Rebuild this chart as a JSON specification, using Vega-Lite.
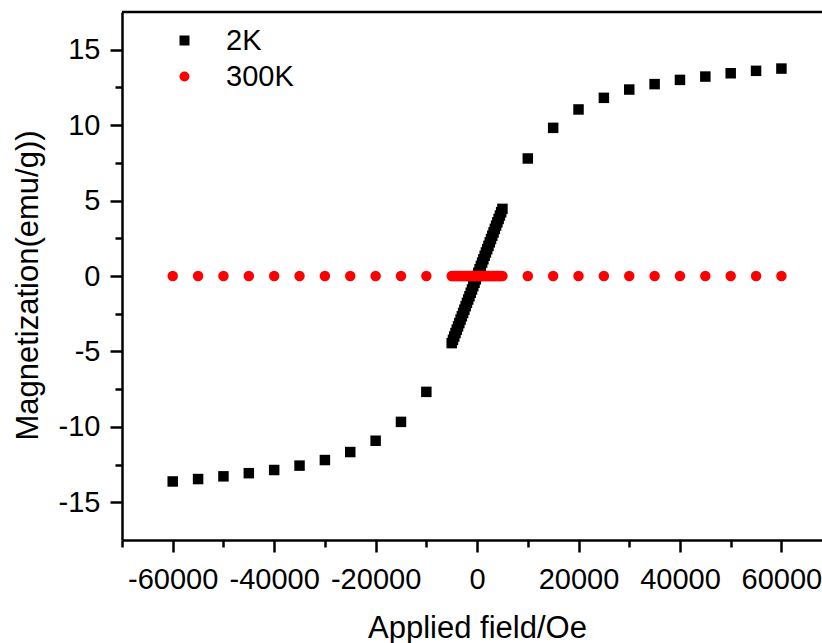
{
  "$schema": "https://vega.github.io/schema/vega-lite/v6.json",
  "autosize": {"type": "none"},
  "padding": {"left": 122, "top": 12, "right": 0, "bottom": 103},
  "width": 700,
  "height": 528,
  "background": "white",
  "config": {
    "view": {"stroke": null},
    "font": "Liberation Sans",
    "axis": {
      "grid": false,
      "domainColor": "black",
      "domainWidth": 2.5,
      "tickColor": "black",
      "tickWidth": 2.5,
      "labelFont": "Liberation Sans",
      "labelFontSize": 29,
      "labelColor": "black",
      "labelOverlap": false,
      "labelFlush": false,
      "titleFont": "Liberation Sans",
      "titleFontSize": 31,
      "titleFontWeight": "normal",
      "titleColor": "black"
    },
    "legend": {
      "orient": "none",
      "legendX": 48,
      "legendY": 14,
      "labelFont": "Liberation Sans",
      "labelFontSize": 29,
      "labelColor": "black",
      "symbolSize": 100,
      "symbolStrokeWidth": 0,
      "rowPadding": 6,
      "labelOffset": 27,
      "padding": 0
    }
  },
  "layer": [
    {
      "data": {"values": [
        {"H": -60000, "M": -13.62, "T": "2K"},
        {"H": -55000, "M": -13.46, "T": "2K"},
        {"H": -50000, "M": -13.28, "T": "2K"},
        {"H": -45000, "M": -13.07, "T": "2K"},
        {"H": -40000, "M": -12.86, "T": "2K"},
        {"H": -35000, "M": -12.57, "T": "2K"},
        {"H": -30000, "M": -12.2, "T": "2K"},
        {"H": -25000, "M": -11.67, "T": "2K"},
        {"H": -20000, "M": -10.92, "T": "2K"},
        {"H": -15000, "M": -9.67, "T": "2K"},
        {"H": -10000, "M": -7.68, "T": "2K"},
        {"H": -5000, "M": -4.45, "T": "2K"},
        {"H": -4750, "M": -4.23, "T": "2K"},
        {"H": -4500, "M": -4.01, "T": "2K"},
        {"H": -4250, "M": -3.78, "T": "2K"},
        {"H": -4000, "M": -3.56, "T": "2K"},
        {"H": -3750, "M": -3.34, "T": "2K"},
        {"H": -3500, "M": -3.12, "T": "2K"},
        {"H": -3250, "M": -2.89, "T": "2K"},
        {"H": -3000, "M": -2.67, "T": "2K"},
        {"H": -2750, "M": -2.45, "T": "2K"},
        {"H": -2500, "M": -2.23, "T": "2K"},
        {"H": -2250, "M": -2.0, "T": "2K"},
        {"H": -2000, "M": -1.78, "T": "2K"},
        {"H": -1750, "M": -1.56, "T": "2K"},
        {"H": -1500, "M": -1.34, "T": "2K"},
        {"H": -1250, "M": -1.11, "T": "2K"},
        {"H": -1000, "M": -0.89, "T": "2K"},
        {"H": -750, "M": -0.67, "T": "2K"},
        {"H": -500, "M": -0.45, "T": "2K"},
        {"H": -250, "M": -0.22, "T": "2K"},
        {"H": 0, "M": 0.0, "T": "2K"},
        {"H": 250, "M": 0.22, "T": "2K"},
        {"H": 500, "M": 0.45, "T": "2K"},
        {"H": 750, "M": 0.67, "T": "2K"},
        {"H": 1000, "M": 0.89, "T": "2K"},
        {"H": 1250, "M": 1.11, "T": "2K"},
        {"H": 1500, "M": 1.34, "T": "2K"},
        {"H": 1750, "M": 1.56, "T": "2K"},
        {"H": 2000, "M": 1.78, "T": "2K"},
        {"H": 2250, "M": 2.0, "T": "2K"},
        {"H": 2500, "M": 2.23, "T": "2K"},
        {"H": 2750, "M": 2.45, "T": "2K"},
        {"H": 3000, "M": 2.67, "T": "2K"},
        {"H": 3250, "M": 2.89, "T": "2K"},
        {"H": 3500, "M": 3.12, "T": "2K"},
        {"H": 3750, "M": 3.34, "T": "2K"},
        {"H": 4000, "M": 3.56, "T": "2K"},
        {"H": 4250, "M": 3.78, "T": "2K"},
        {"H": 4500, "M": 4.01, "T": "2K"},
        {"H": 4750, "M": 4.23, "T": "2K"},
        {"H": 5000, "M": 4.45, "T": "2K"},
        {"H": 10000, "M": 7.79, "T": "2K"},
        {"H": 15000, "M": 9.82, "T": "2K"},
        {"H": 20000, "M": 11.04, "T": "2K"},
        {"H": 25000, "M": 11.81, "T": "2K"},
        {"H": 30000, "M": 12.36, "T": "2K"},
        {"H": 35000, "M": 12.72, "T": "2K"},
        {"H": 40000, "M": 13.0, "T": "2K"},
        {"H": 45000, "M": 13.22, "T": "2K"},
        {"H": 50000, "M": 13.44, "T": "2K"},
        {"H": 55000, "M": 13.6, "T": "2K"},
        {"H": 60000, "M": 13.75, "T": "2K"},
        {"H": -60000, "M": 0, "T": "300K"},
        {"H": -55000, "M": 0, "T": "300K"},
        {"H": -50000, "M": 0, "T": "300K"},
        {"H": -45000, "M": 0, "T": "300K"},
        {"H": -40000, "M": 0, "T": "300K"},
        {"H": -35000, "M": 0, "T": "300K"},
        {"H": -30000, "M": 0, "T": "300K"},
        {"H": -25000, "M": 0, "T": "300K"},
        {"H": -20000, "M": 0, "T": "300K"},
        {"H": -15000, "M": 0, "T": "300K"},
        {"H": -10000, "M": 0, "T": "300K"},
        {"H": -5000, "M": 0, "T": "300K"},
        {"H": -4750, "M": 0, "T": "300K"},
        {"H": -4500, "M": 0, "T": "300K"},
        {"H": -4250, "M": 0, "T": "300K"},
        {"H": -4000, "M": 0, "T": "300K"},
        {"H": -3750, "M": 0, "T": "300K"},
        {"H": -3500, "M": 0, "T": "300K"},
        {"H": -3250, "M": 0, "T": "300K"},
        {"H": -3000, "M": 0, "T": "300K"},
        {"H": -2750, "M": 0, "T": "300K"},
        {"H": -2500, "M": 0, "T": "300K"},
        {"H": -2250, "M": 0, "T": "300K"},
        {"H": -2000, "M": 0, "T": "300K"},
        {"H": -1750, "M": 0, "T": "300K"},
        {"H": -1500, "M": 0, "T": "300K"},
        {"H": -1250, "M": 0, "T": "300K"},
        {"H": -1000, "M": 0, "T": "300K"},
        {"H": -750, "M": 0, "T": "300K"},
        {"H": -500, "M": 0, "T": "300K"},
        {"H": -250, "M": 0, "T": "300K"},
        {"H": 0, "M": 0, "T": "300K"},
        {"H": 250, "M": 0, "T": "300K"},
        {"H": 500, "M": 0, "T": "300K"},
        {"H": 750, "M": 0, "T": "300K"},
        {"H": 1000, "M": 0, "T": "300K"},
        {"H": 1250, "M": 0, "T": "300K"},
        {"H": 1500, "M": 0, "T": "300K"},
        {"H": 1750, "M": 0, "T": "300K"},
        {"H": 2000, "M": 0, "T": "300K"},
        {"H": 2250, "M": 0, "T": "300K"},
        {"H": 2500, "M": 0, "T": "300K"},
        {"H": 2750, "M": 0, "T": "300K"},
        {"H": 3000, "M": 0, "T": "300K"},
        {"H": 3250, "M": 0, "T": "300K"},
        {"H": 3500, "M": 0, "T": "300K"},
        {"H": 3750, "M": 0, "T": "300K"},
        {"H": 4000, "M": 0, "T": "300K"},
        {"H": 4250, "M": 0, "T": "300K"},
        {"H": 4500, "M": 0, "T": "300K"},
        {"H": 4750, "M": 0, "T": "300K"},
        {"H": 5000, "M": 0, "T": "300K"},
        {"H": 10000, "M": 0, "T": "300K"},
        {"H": 15000, "M": 0, "T": "300K"},
        {"H": 20000, "M": 0, "T": "300K"},
        {"H": 25000, "M": 0, "T": "300K"},
        {"H": 30000, "M": 0, "T": "300K"},
        {"H": 35000, "M": 0, "T": "300K"},
        {"H": 40000, "M": 0, "T": "300K"},
        {"H": 45000, "M": 0, "T": "300K"},
        {"H": 50000, "M": 0, "T": "300K"},
        {"H": 55000, "M": 0, "T": "300K"},
        {"H": 60000, "M": 0, "T": "300K"}
      ]},
      "mark": {"type": "point", "filled": true, "opacity": 1, "size": 110, "strokeWidth": 0},
      "encoding": {
        "x": {
          "field": "H",
          "type": "quantitative",
          "scale": {"domain": [-70000, 68000], "nice": false, "zero": false},
          "axis": {
            "title": "Applied field/Oe",
            "values": [-70000, -60000, -50000, -40000, -30000, -20000, -10000, 0, 10000, 20000, 30000, 40000, 50000, 60000],
            "labelExpr": "datum.value % 20000 === 0 ? '' + datum.value : ''",
            "tickSize": {"condition": {"test": "datum.value % 20000 === 0", "value": 12}, "value": 7},
            "labelBaseline": "alphabetic",
            "labelPadding": 36,
            "titleX": 355,
            "titleY": 97,
            "titleAlign": "center",
            "titleBaseline": "alphabetic",
            "titleAnchor": null
          }
        },
        "y": {
          "field": "M",
          "type": "quantitative",
          "scale": {"domain": [-17.5, 17.5], "nice": false, "zero": false},
          "axis": {
            "title": "Magnetization(emu/g))",
            "values": [-15, -12.5, -10, -7.5, -5, -2.5, 0, 2.5, 5, 7.5, 10, 12.5, 15],
            "labelExpr": "datum.value % 5 === 0 ? '' + datum.value : ''",
            "tickSize": {"condition": {"test": "datum.value % 5 === 0", "value": 12}, "value": 7},
            "labelPadding": 10,
            "labelBaseline": "middle",
            "titleX": -94,
            "titleY": 273,
            "titleAngle": -90,
            "titleAlign": "center",
            "titleBaseline": "middle",
            "titleAnchor": null
          }
        },
        "color": {
          "field": "T",
          "type": "nominal",
          "title": null,
          "scale": {"domain": ["2K", "300K"], "range": ["#000000", "#ff0000"]}
        },
        "shape": {
          "field": "T",
          "type": "nominal",
          "title": null,
          "scale": {"domain": ["2K", "300K"], "range": ["square", "circle"]}
        }
      }
    },
    {
      "data": {"values": [{}]},
      "mark": {"type": "rule", "color": "black", "strokeWidth": 2.5},
      "encoding": {"y": {"datum": 17.5, "type": "quantitative"}}
    }
  ]
}
